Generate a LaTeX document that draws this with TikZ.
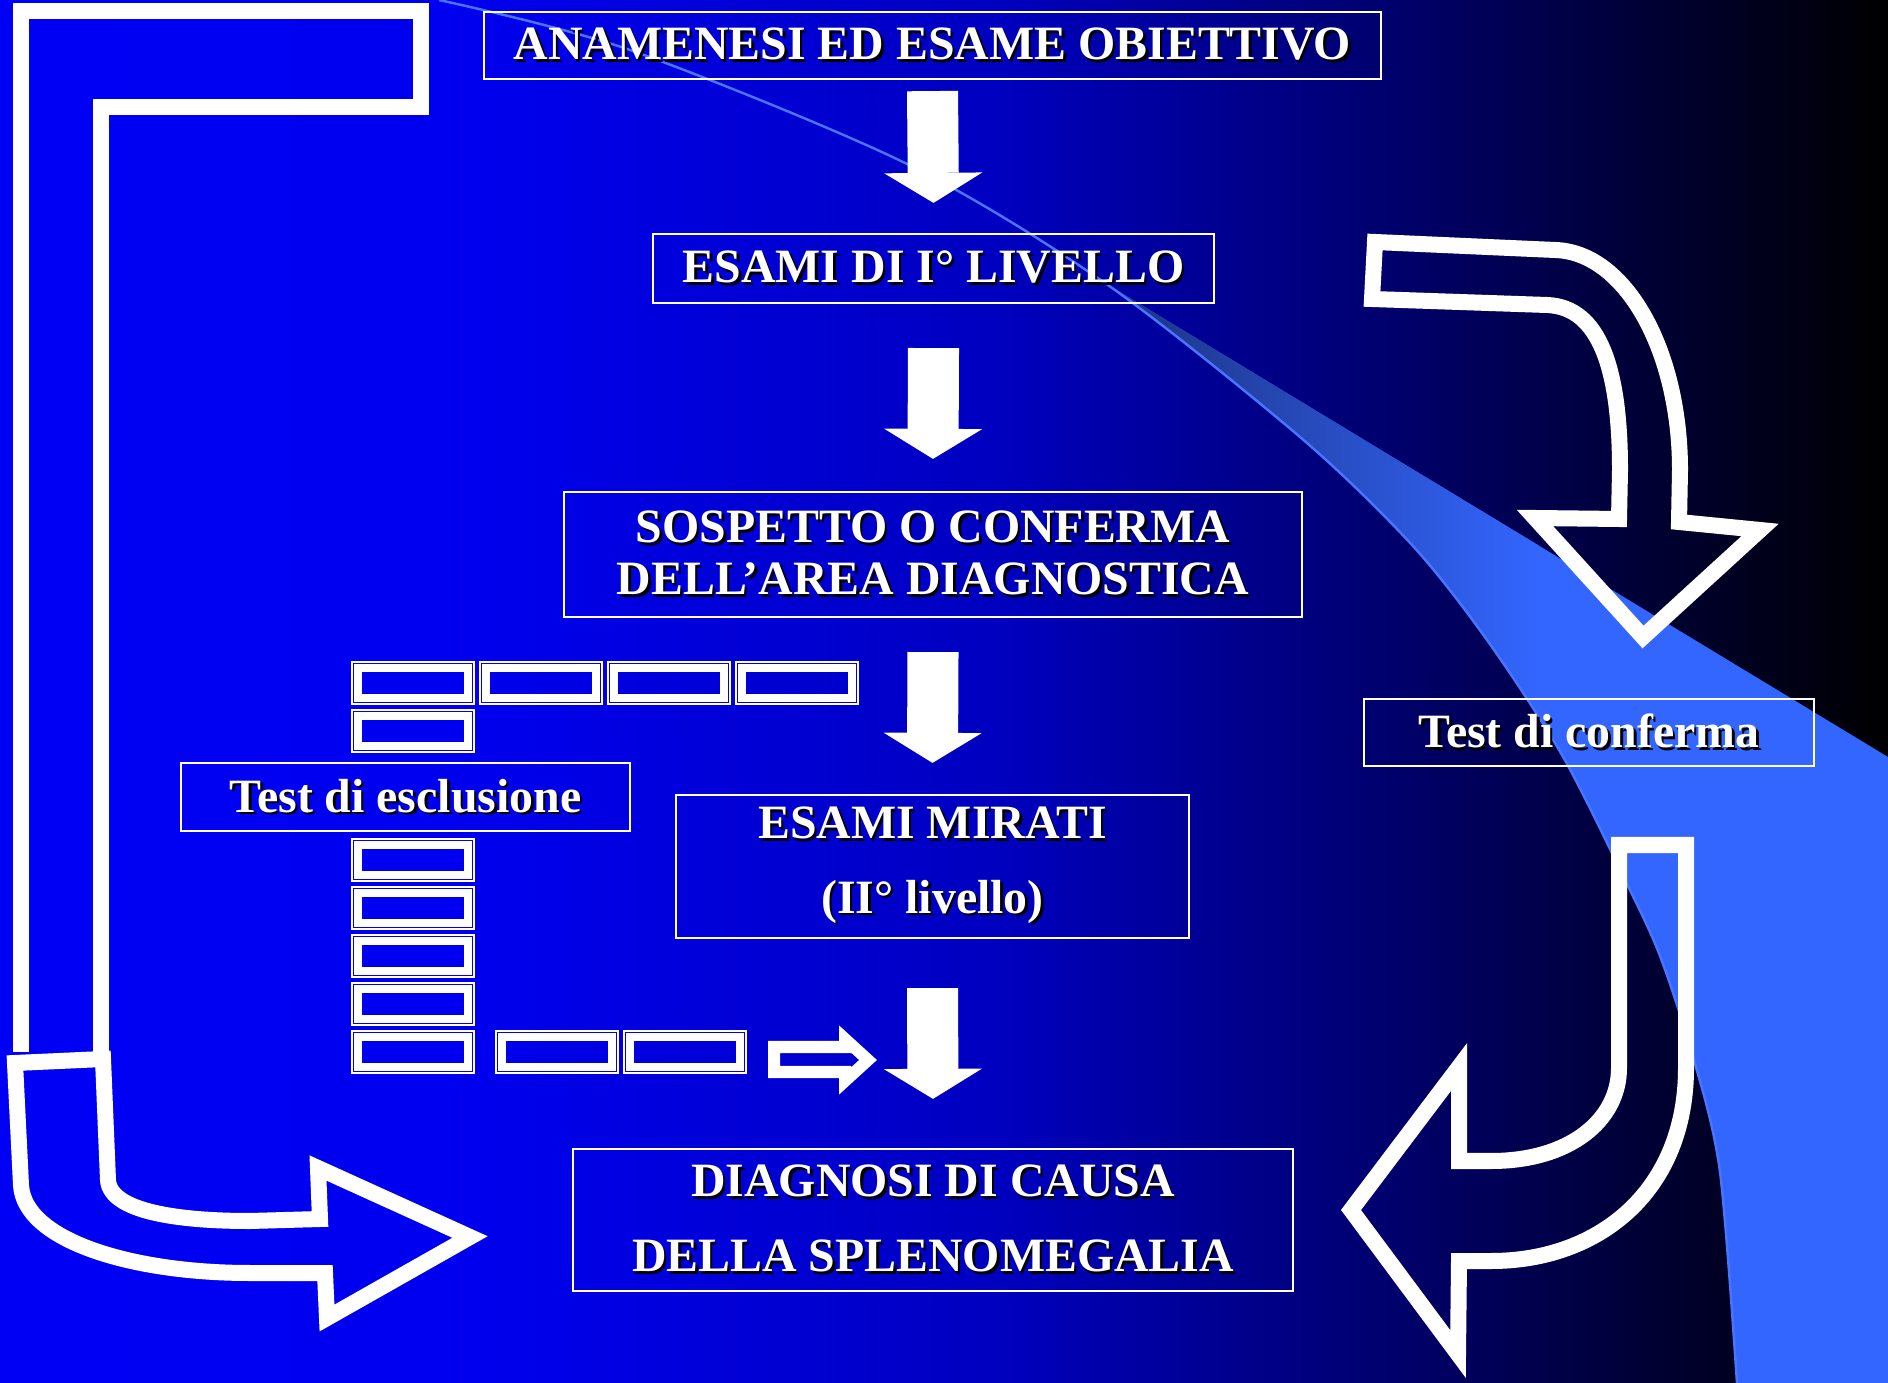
\documentclass[tikz,border=0pt]{standalone}
\usepackage{fontspec}
\setmainfont{Liberation Serif}
\usetikzlibrary{arrows.meta}
\definecolor{swlight}{RGB}{51,102,255}
\definecolor{swdark}{RGB}{28,50,128}
\pgfdeclarehorizontalshading{slidebg}{100bp}{rgb(0bp)=(0,0,0.96); rgb(25bp)=(0,0,0.96); rgb(37bp)=(0,0,0.94); rgb(51.5bp)=(0,0,0.75); rgb(62bp)=(0,0,0.42); rgb(70bp)=(0,0,0.16); rgb(75bp)=(0,0,0); rgb(100bp)=(0,0,0)}
\newcommand{\shadowtxt}[1]{\leavevmode\rlap{\kern0.7pt\raisebox{-0.7pt}{\color{black}#1}}#1}
\begin{document}
\begin{tikzpicture}[x=0.01cm, y=-0.01cm,
    box/.style={draw=white, line width=0.6pt, text=white, inner sep=0pt, align=center,
      font=\fontsize{13.6}{14.8}\selectfont\bfseries},
    wide/.style={font=\fontsize{13.6}{21.3}\selectfont\bfseries},
    blank/.style={draw=white, line width=0.5pt, minimum width=1.22cm, minimum height=0.42cm, inner sep=0pt,
      path picture={\draw[white, line width=0.08cm] ([shift={(0.065cm,0.065cm)}]path picture bounding box.south west)
        rectangle ([shift={(-0.065cm,-0.065cm)}]path picture bounding box.north east);}},
    down/.style={white, line width=0.51cm, -{Triangle[line width=0pt, length=0.3cm, width=0.98cm]}},
    hollow/.style={white, line width=0.16cm},
    thinhollow/.style={white, line width=0.12cm}]
    \shade[shading=slidebg] (0,0) rectangle (1888,1383);
    \useasboundingbox (0,0) rectangle (1888,1383);
    % light swoosh on the right
    \begin{scope}
      \clip (1105,283) -- (1888,757) -- (1888,1383) -- (1000,1383) -- cycle;
      \clip plot[smooth] coordinates {(439,0) (630,50) (905,163) (1105,283) (1300,437) (1412,545) (1487,640) (1562,755) (1626,882) (1660,956) (1694,1060) (1720,1172) (1737,1383)} -- (1888,1383) -- (1888,0) -- cycle;
      \fill[swlight] (1000,0) rectangle (1888,1383);
      \shade[left color=swdark, right color=swlight] (1105,250) rectangle (1540,1383);
    \end{scope}
    \draw[swlight!90!white, line width=0.7pt] plot[smooth] coordinates {(439,0) (630,50) (905,163) (1105,283) (1300,437) (1412,545) (1487,640) (1562,755) (1626,882) (1660,956) (1694,1060) (1720,1172) (1737,1383)};

    \node[box, minimum width=8.97cm, minimum height=0.67cm] (b1) at (932.5,45.5) {\shadowtxt{ANAMENESI ED ESAME OBIETTIVO}};
    \node[box, minimum width=5.61cm, minimum height=0.69cm] (b2) at (933.5,268.5) {\shadowtxt{ESAMI DI I° LIVELLO}};
    \node[box, minimum width=7.38cm, minimum height=1.25cm] (b3) at (933,554.5) {\shadowtxt{SOSPETTO O CONFERMA}\\\shadowtxt{DELL’AREA DIAGNOSTICA}};
    \node[box, wide, minimum width=5.13cm, minimum height=1.43cm] (b4) at (932.5,866.5) {\shadowtxt{ESAMI MIRATI}\\\shadowtxt{(II° livello)}};
    \node[box, wide, minimum width=7.2cm, minimum height=1.42cm] (b5) at (933,1220) {\shadowtxt{DIAGNOSI DI CAUSA}\\\shadowtxt{DELLA SPLENOMEGALIA}};
    \node[box, minimum width=4.49cm, minimum height=0.68cm] (esc) at (405.5,797) {\shadowtxt{Test di esclusione}};
    \node[box, minimum width=4.5cm, minimum height=0.67cm] (conf) at (1589,732.5) {\shadowtxt{Test di conferma}};

    \draw[down] ([yshift=-0.11cm]b1.south) -- ([yshift=0.30cm]b2.north);
    \draw[down] ([yshift=-0.44cm]b2.south) -- ([yshift=0.32cm]b3.north);
    \draw[down] ([yshift=-0.34cm]b3.south) -- ([yshift=0.31cm]b4.north);
    \draw[down] ([yshift=-0.49cm]b4.south) -- ([yshift=0.49cm]b5.north);

    % empty test slots
    \foreach \x/\y [count=\i] in {413/683, 541/683, 669/683, 797/683, 413/731, 413/860, 413/908, 413/956, 413/1004, 413/1052, 557/1052, 685/1052}
      \node[blank] (t\i) at (\x,\y) {};
    \draw[thinhollow] (774,1047) -- (845,1047) -- (845,1039) -- (868,1060) -- (845,1081) -- (845,1072) -- (774,1072) -- cycle;

    % big outline arrows
    \draw[hollow] (21,1052) -- (21,11) -- (421,11) -- (421,107) -- (101,107) -- (101,1052);
    \draw[hollow] (15,1063) -- (103,1059) -- (108,1180) .. controls (110,1212) and (180,1221) .. (250,1221) -- (320,1219)
      -- (318,1168) -- (470,1237) -- (327,1318) -- (325,1273) -- (250,1273) .. controls (130,1273) and (24,1240) .. (21,1185) -- cycle;
    \draw[hollow] (1375,242) -- (1555,250) .. controls (1625,252) and (1680,350) .. (1680,470) -- (1679,522) -- (1760,530)
      -- (1643,637) -- (1535,518) -- (1619,519) -- (1620,470) .. controls (1620,370) and (1600,307) .. (1547,305) -- (1372,299) -- cycle;
    \draw[hollow] (1619,845) -- (1686,845) -- (1686,1068) .. controls (1686,1190) and (1600,1261) .. (1491,1261) -- (1459,1261)
      -- (1458,1354) -- (1351,1210) -- (1459,1067) -- (1459,1161) -- (1491,1161) .. controls (1570,1161) and (1619,1120) .. (1619,1068) -- cycle;
\end{tikzpicture}
\end{document}
